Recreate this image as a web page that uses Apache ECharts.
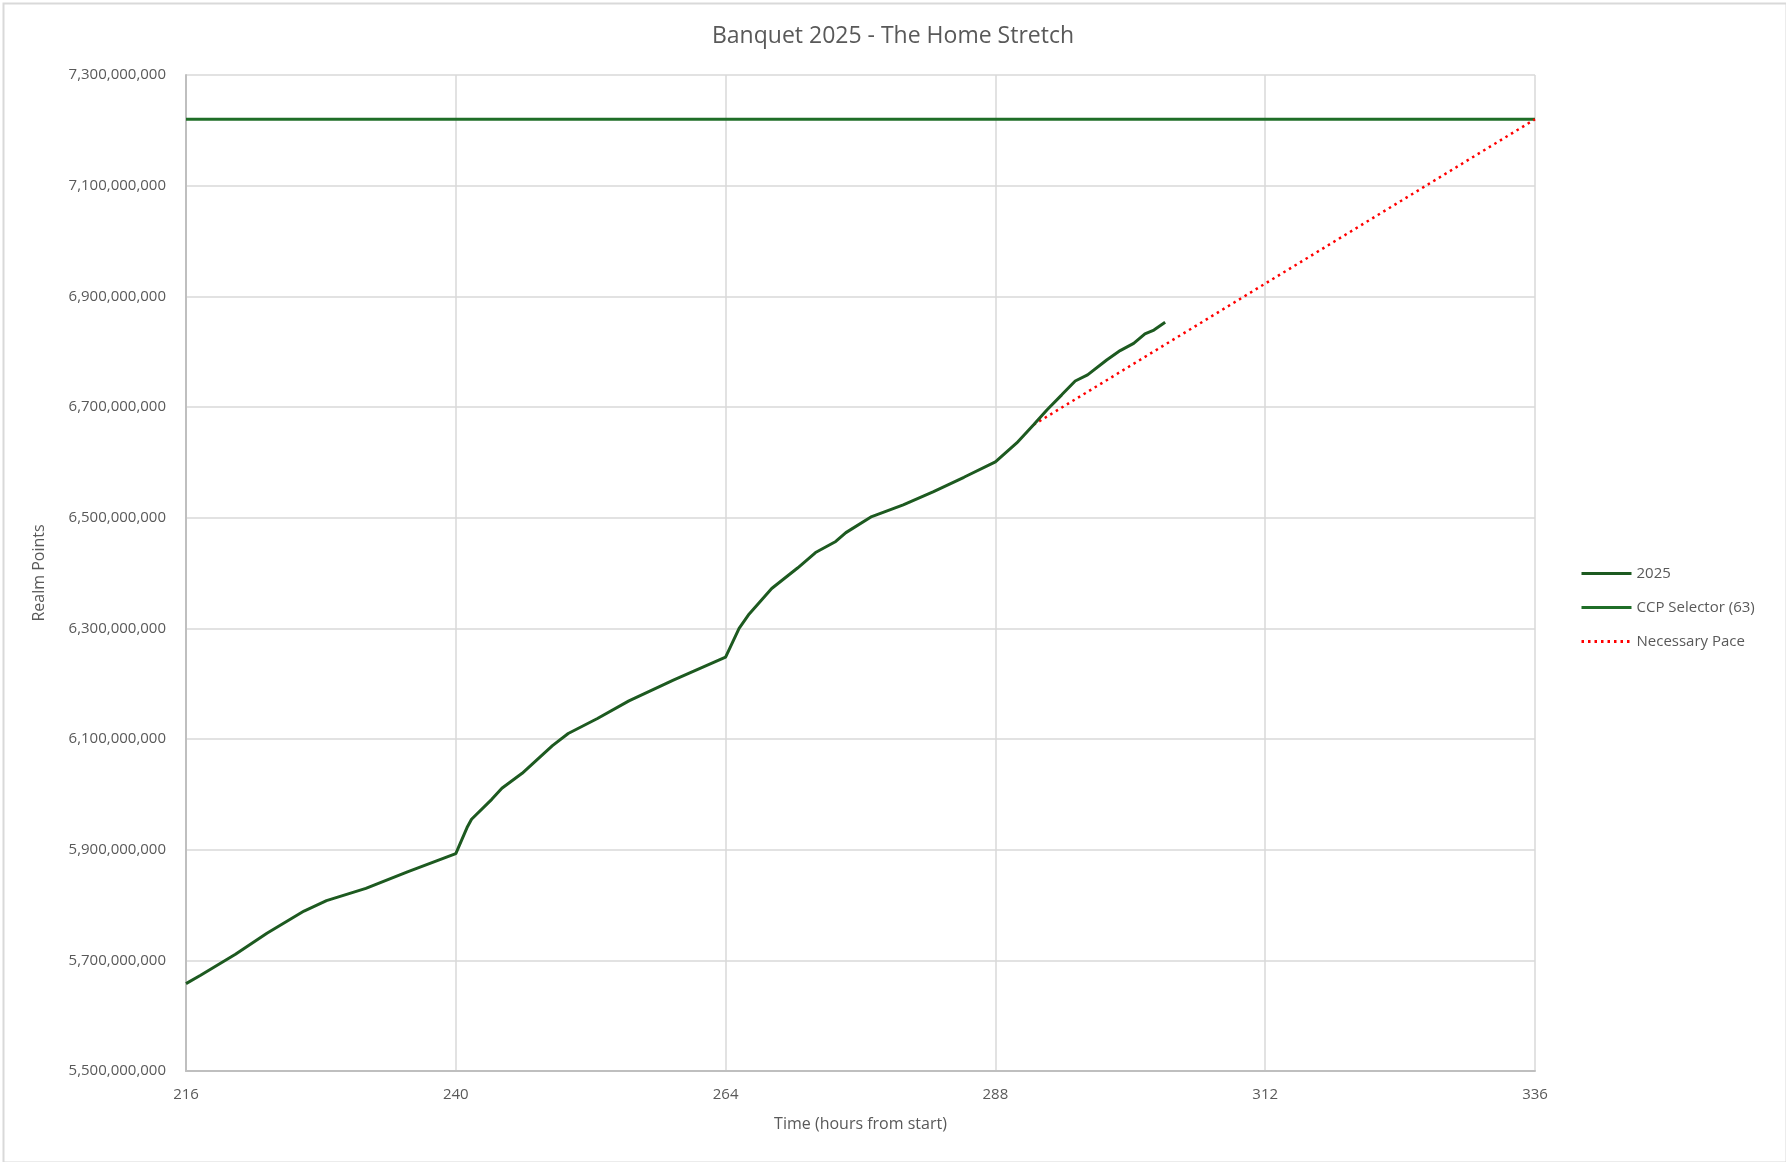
<!DOCTYPE html>
<html>
<head>
<meta charset="utf-8">
<script src="https://cdn.jsdelivr.net/npm/echarts@6/dist/echarts.min.js"></script>
<style>
html,body{margin:0;padding:0;background:#fff;}
#chart{width:1786px;height:1162px;}
</style>
</head>
<body>
<div id="chart"></div>
<script>
// ---- data ----
const hours = [216, 217.3, 220.4, 223.2, 226.5, 228.5, 232, 235.7, 240, 241, 241.4, 243.2, 244.1, 245.9, 248.6, 250, 252.6, 255.4, 259.4, 264, 265.2, 266.1, 268.1, 270.4, 272, 273.8, 274.7, 277, 279.8, 282.5, 285.2, 288, 289.9, 291.4, 292.6, 293.9, 295.1, 296.2, 297.9, 299.1, 300.3, 301.3, 302.1, 303.1];
const realmPoints = [5658e6, 5673e6, 5711e6, 5749e6, 5789e6, 5808e6, 5830e6, 5860e6, 5893e6, 5940e6, 5955e6, 5991e6, 6011e6, 6038e6, 6088e6, 6110e6, 6137e6, 6169e6, 6207e6, 6248e6, 6300e6, 6326e6, 6372e6, 6409e6, 6437e6, 6457e6, 6473e6, 6502e6, 6523e6, 6547e6, 6573e6, 6601e6, 6635e6, 6668e6, 6695e6, 6722e6, 6747e6, 6758e6, 6785e6, 6802e6, 6815e6, 6832e6, 6839e6, 6853e6];
const ccpHours = [216, 336];
const ccpValues = [7220e6, 7220e6];
const paceHours = [291.4, 336];
const paceValues = [6668e6, 7220e6];
const yTicks = [5500e6, 5700e6, 5900e6, 6100e6, 6300e6, 6500e6, 6700e6, 6900e6, 7100e6, 7300e6];
const xTicks = [216, 240, 264, 288, 312, 336];

const zip = (xs, ys) => xs.map((x, i) => [x, ys[i]]);
const fontFam = '"Open Sans", "Noto Sans", sans-serif';
const txt = '#595959';

const chart = echarts.init(document.getElementById('chart'));
chart.setOption({
  backgroundColor: '#fff',
  animation: false,
  graphic: [{
    type: 'rect', left: 1, top: 1, z: -1,
    shape: {width: 1783, height: 1159},
    style: {fill: 'none', stroke: '#d9d9d9', lineWidth: 2}
  }],
  title: {
    text: 'Banquet 2025 - The Home Stretch',
    left: 'center', top: 20,
    textStyle: {fontFamily: fontFam, fontSize: 23, fontWeight: 'normal', color: txt}
  },
  grid: {left: 186, right: 251, top: 75, bottom: 91, containLabel: false},
  legend: {
    orient: 'vertical', left: 1575, top: 561,
    itemWidth: 50, itemHeight: 8, itemGap: 19,
    itemStyle: {opacity: 0},
    lineStyle: {width: 3},
    textStyle: {fontFamily: fontFam, fontSize: 15, color: txt},
    data: ['2025', 'CCP Selector (63)', 'Necessary Pace']
  },
  xAxis: {
    type: 'value', min: 216, max: 336, interval: 24,
    name: 'Time (hours from start)', nameLocation: 'middle', nameGap: 45,
    nameTextStyle: {fontFamily: fontFam, fontSize: 16, color: txt},
    axisLine: {show: true, lineStyle: {color: '#bfbfbf', width: 2}},
    axisTick: {show: false, customValues: xTicks},
    axisLabel: {customValues: xTicks, margin: 16, fontFamily: fontFam, fontSize: 15, color: txt},
    splitLine: {show: true, lineStyle: {color: '#d9d9d9', width: 1.5}}
  },
  yAxis: {
    type: 'value', min: 5500e6, max: 7300e6, interval: 100e6,
    name: 'Realm Points', nameLocation: 'middle', nameGap: 139, nameRotate: 90,
    nameTextStyle: {fontFamily: fontFam, fontSize: 16, color: txt},
    axisLine: {show: true, lineStyle: {color: '#bfbfbf', width: 2}},
    axisTick: {show: false, customValues: yTicks},
    axisLabel: {customValues: yTicks, margin: 20, fontFamily: fontFam, fontSize: 15, color: txt,
      formatter: v => Math.round(v).toLocaleString('en-US')},
    splitLine: {show: true, lineStyle: {color: '#d9d9d9', width: 1.5}}
  },
  series: [
    {
      name: '2025', type: 'line', data: zip(hours, realmPoints),
      showSymbol: false, symbol: 'none', z: 4,
      lineStyle: {color: '#1d5a20', width: 3},
      itemStyle: {color: '#1d5a20'}
    },
    {
      name: 'CCP Selector (63)', type: 'line', data: zip(ccpHours, ccpValues),
      showSymbol: false, symbol: 'none', z: 3,
      lineStyle: {color: '#1f6e27', width: 3},
      itemStyle: {color: '#1f6e27'}
    },
    {
      name: 'Necessary Pace', type: 'line', data: zip(paceHours, paceValues),
      showSymbol: false, symbol: 'none', z: 3,
      lineStyle: {color: '#ff0000', width: 2.5, type: [2.5, 4]},
      itemStyle: {color: '#ff0000'}
    }
  ]
});
</script>
</body>
</html>
